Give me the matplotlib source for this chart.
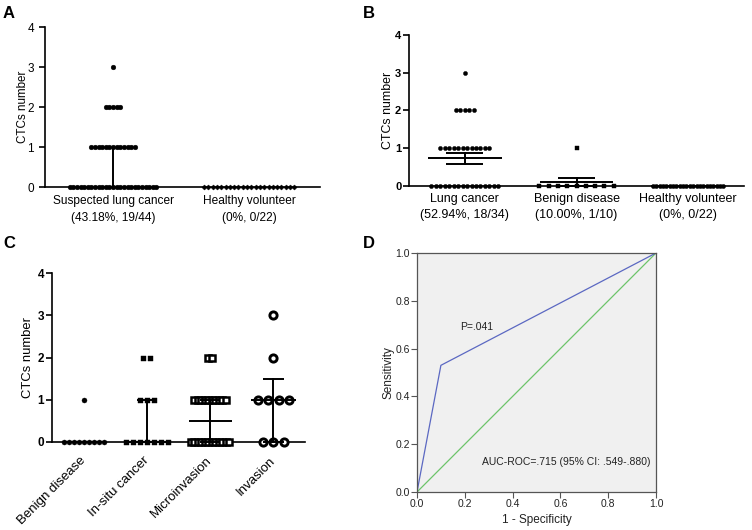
import numpy as np
import matplotlib
matplotlib.use('Agg')
import matplotlib.pyplot as plt

plt.rcParams['font.family'] = ['Liberation Sans', 'DejaVu Sans']

# CTC count levels and number of subjects at each level
levels = [0, 1, 2, 3]

a_groups = ['Suspected lung cancer\n(43.18%, 19/44)', 'Healthy volunteer\n(0%, 0/22)']
a_cancer = [25, 13, 5, 1]
a_healthy = [22, 0, 0, 0]

b_groups = ['Lung cancer\n(52.94%, 18/34)', 'Benign disease\n(10.00%, 1/10)',
            'Healthy volunteer\n(0%, 0/22)']
b_lung = [16, 12, 5, 1]
b_benign = [9, 1, 0, 0]
b_healthy = [22, 0, 0, 0]

c_groups = ['Benign disease', 'In-situ cancer', 'Microinvasion', 'Invasion']
c_benign = [9, 1, 0, 0]
c_insitu = [7, 3, 2, 0]
c_micro = [12, 10, 2, 0]
c_invasion = [3, 4, 1, 1]

roc_fpr = [0.0, 0.1, 1.0]
roc_tpr = [0.0, 0.53, 1.0]
ref_line = [0.0, 1.0]


def expand(counts):
    return np.repeat(levels, counts)


def dots(ax, i, counts, step, **kw):
    xs, ys = [], []
    for lv, n in zip(levels, counts):
        off = (np.arange(n) - (n - 1) / 2) * step
        xs += list(i + off)
        ys += [lv] * n
    kw.setdefault('mew', 0.3)
    ax.plot(xs, ys, ls='none', clip_on=False, zorder=3, **kw)


def hline(ax, x0, x1, y, lw=1.4):
    ax.plot([x0, x1], [y, y], color='k', lw=lw, zorder=4, clip_on=False,
            solid_capstyle='butt')


def median_iqr(ax, i, counts, w, cw):
    v = expand(counts)
    med = np.median(v)
    q1, q3 = np.percentile(v, [25, 75], method='weibull')
    hline(ax, i - w, i + w, med)
    ax.plot([i, i], [q1, q3], color='k', lw=1.4, zorder=4, clip_on=False)
    for q in (q1, q3):
        hline(ax, i - cw, i + cw, q)


def mean_sem(ax, i, counts, w, cw):
    v = expand(counts)
    m = v.mean()
    s = v.std(ddof=1) / np.sqrt(len(v))
    hline(ax, i - w, i + w, m)
    ax.plot([i, i], [m - s, m + s], color='k', lw=1.4, zorder=4, clip_on=False)
    for q in (m - s, m + s):
        hline(ax, i - cw, i + cw, q)


def style(ax, bold, size):
    for s in ['top', 'right']:
        ax.spines[s].set_visible(False)
    for s in ['left', 'bottom']:
        ax.spines[s].set_linewidth(1.2)
    ax.set_ylim(0, 4)
    ax.set_yticks(range(5))
    ax.tick_params(axis='x', length=0)
    ax.tick_params(axis='y', length=4, width=1.2, labelsize=size)
    if bold:
        for t in ax.get_yticklabels():
            t.set_fontweight('bold')


fig = plt.figure(figsize=(7.52, 5.30), dpi=100)
W, H = 752, 530


def rect(x0, x1, ytop, ybot):
    return [x0 / W, 1 - ybot / H, (x1 - x0) / W, (ybot - ytop) / H]


# ---- A ----
ax = fig.add_axes(rect(45, 320, 27, 187))
ax.set_xlim(-0.5, 1.52)
dots(ax, 0, a_cancer, 0.0265, marker='o', ms=3.4, color='k')
dots(ax, 1, a_healthy, 0.0316, marker='D', ms=2.6, color='k')
median_iqr(ax, 0, a_cancer, 0.1, 0.0)
style(ax, False, 8.5)
ax.tick_params(axis='y', pad=4)
ax.set_xticks([0, 1])
ax.set_xticklabels(a_groups, fontsize=8.6, linespacing=1.5)
ax.tick_params(axis='x', pad=6)
ax.set_ylabel('CTCs number', fontsize=8.4, labelpad=-1)

# ---- B ----
ax = fig.add_axes(rect(409, 744, 35, 186))
ax.set_xlim(-0.5, 2.5)
dots(ax, 0, b_lung, 0.040, marker='o', ms=3.0, color='k')
dots(ax, 1, b_benign, 0.083, marker='s', ms=3.2, color='k')
dots(ax, 2, b_healthy, 0.030, marker='o', ms=3.0, color='k')
mean_sem(ax, 0, b_lung, 0.33, 0.165)
mean_sem(ax, 1, b_benign, 0.33, 0.165)
mean_sem(ax, 2, b_healthy, 0.33, 0.165)
style(ax, True, 8)
ax.tick_params(axis='y', pad=1.5)
ax.set_xticks([0, 1, 2])
ax.set_xticklabels(b_groups, fontsize=9, linespacing=1.4)
ax.tick_params(axis='x', pad=5)
ax.set_ylabel('CTCs number', fontsize=8.9, labelpad=0.5)

# ---- C ----
ax = fig.add_axes(rect(52, 305, 273, 442))
ax.set_xlim(-0.5, 3.5)
dots(ax, 0, c_benign, 0.079, marker='o', ms=3.6, color='k')
dots(ax, 1, c_insitu, 0.112, marker='s', ms=3.6, color='k')
dots(ax, 2, c_micro, 0.055, marker='s', ms=4.8, mfc='white', mec='k', mew=1.8)
dots(ax, 3, c_invasion, 0.163, marker='o', ms=5.2, mfc='white', mec='k', mew=2.1)
median_iqr(ax, 0, c_benign, 0.34, 0.16)
median_iqr(ax, 1, c_insitu, 0.34, 0.16)
median_iqr(ax, 2, c_micro, 0.34, 0.16)
median_iqr(ax, 3, c_invasion, 0.35, 0.17)
style(ax, True, 8.5)
ax.tick_params(axis='y', pad=1.5)
ax.set_xticks(range(4))
ax.set_xticklabels(c_groups, fontsize=9.5, rotation=45, ha='right', va='center',
                   rotation_mode='anchor')
ax.tick_params(axis='x', pad=12)
ax.set_ylabel('CTCs number', fontsize=9.4, labelpad=3)

# ---- D ----
ax = fig.add_axes(rect(417, 656, 253, 492))
ax.set_facecolor('#F0F0F0')
ax.plot(ref_line, ref_line, color='#6CC46A', lw=0.9)
ax.plot(roc_fpr, roc_tpr, color='#5B68C2', lw=0.9)
ax.set_xlim(0, 1)
ax.set_ylim(0, 1)
ax.set_xticks(np.arange(0, 1.01, 0.2))
ax.set_yticks(np.arange(0, 1.01, 0.2))
ax.xaxis.set_major_formatter(matplotlib.ticker.FormatStrFormatter('%.1f'))
ax.yaxis.set_major_formatter(matplotlib.ticker.FormatStrFormatter('%.1f'))
for s in ax.spines.values():
    s.set_color('#555555')
    s.set_linewidth(0.9)
ax.tick_params(length=4, width=0.8, color='#555555', labelsize=7.5, pad=1,
               labelcolor='#222222')
ax.set_xlabel('1 - Specificity', fontsize=8.5, labelpad=4, color='#222222')
ax.set_ylabel('Sensitivity', fontsize=8.5, labelpad=1, color='#222222')
ax.text(0.18, 0.69, 'P=.041', fontsize=7.5, va='center', color='#222222')
ax.text(0.272, 0.125, 'AUC-ROC=.715 (95% CI: .549-.880)', fontsize=7.5,
        va='center', color='#222222')

# panel letters
for lab, x, y in [('A', 3, 14), ('B', 363, 14), ('C', 3, 243), ('D', 363, 243)]:
    fig.text(x / W, 1 - y / H, lab, fontsize=12, fontweight='bold', va='center')

fig.savefig('out.png', dpi=100)
